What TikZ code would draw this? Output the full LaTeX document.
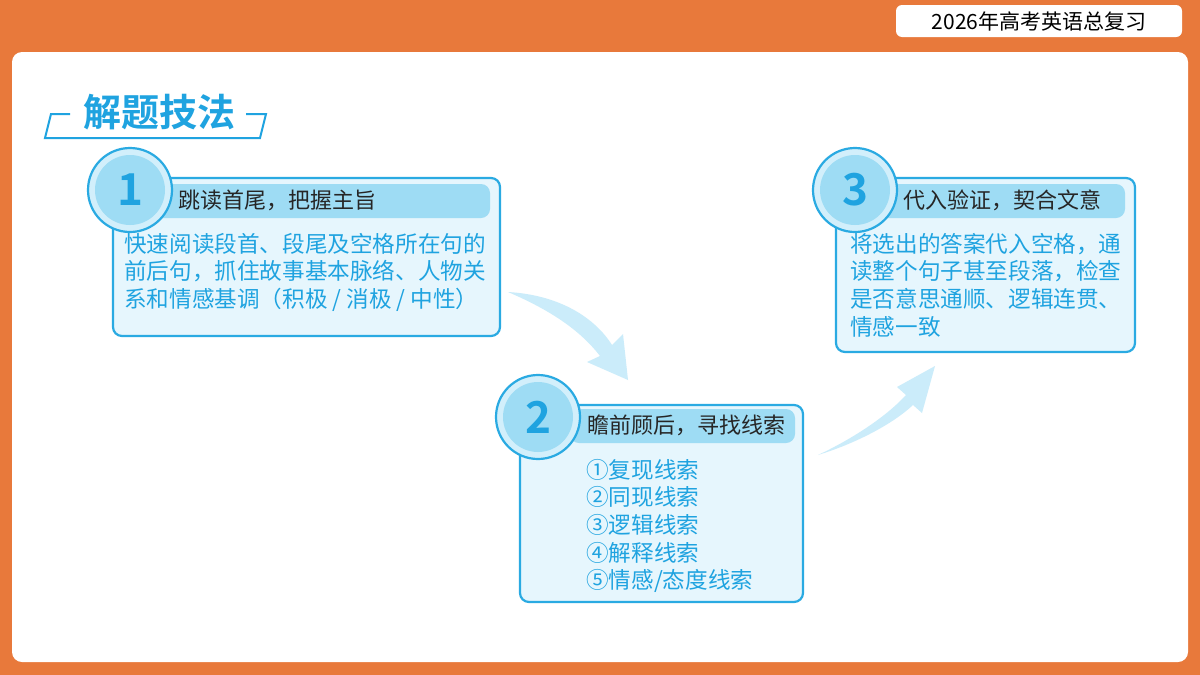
\documentclass[tikz,border=0pt]{standalone}
\usepackage{fontspec}
\setmainfont{Noto Sans CJK SC}
\newfontfamily\cjkb{Noto Sans CJK SC Bold}
\definecolor{org}{HTML}{E8793B}
\definecolor{bl}{HTML}{1FA3E0}
\definecolor{bord}{HTML}{2AAAE2}
\definecolor{boxf}{HTML}{E6F6FD}
\definecolor{band}{HTML}{9EDCF4}
\definecolor{ring}{HTML}{D2EFFB}
\definecolor{arr}{HTML}{CBECFA}
\tikzset{
 card/.style={draw=bord,line width=2.2pt,fill=boxf,rounded corners=9pt},
 bandst/.style={fill=band,rounded corners=9pt},
 numc/.style={circle,draw=bord,line width=2.2pt,fill=ring,minimum size=84pt,inner sep=0},
 numi/.style={circle,fill=band,minimum size=70pt,inner sep=0},
 numt/.style={text=bl,font=\cjkb\fontsize{44}{46}\selectfont},
 head/.style={anchor=west,inner sep=0,text=black!85,font=\fontsize{22}{25}\selectfont},
 body/.style={anchor=north west,inner sep=0,text=bl,align=left,font=\fontsize{22.6}{27.6}\selectfont},
}
\begin{document}
\begin{tikzpicture}[x=1pt,y=-1pt]
\fill[org] (0,0) rectangle (1200,675);
\useasboundingbox (0,0) rectangle (1200,675);
\fill[white,rounded corners=10pt] (12,52) rectangle (1188,662);
\node[fill=white,rounded corners=6pt,minimum width=286pt,minimum height=32pt,inner sep=0] (lab) at (1039,21) {};
\node[font=\fontsize{21}{24}\selectfont,text=black] at (lab) {2026年高考英语总复习};
% title
\draw[bl,line width=2pt] (70,114) -- (51,114) -- (45,138) -- (260,138) -- (266,114) -- (246,114);
\node[text=bl,font=\cjkb\fontsize{38}{40}\selectfont,inner sep=0] (title) at (159,112) {解题技法};
% arrows
\fill[arr] (508,292) .. controls (560,295) and (595,318) .. (612,345) -- (623,334) -- (628,380) -- (587,362) -- (600,356) .. controls (580,330) and (550,310) .. (508,292) -- cycle;
\fill[arr] (818,455) .. controls (860,442) and (895,422) .. (913,405) -- (922,413) -- (935,366) -- (897,387) -- (906,395) .. controls (885,418) and (850,440) .. (818,455) -- cycle;
% box 1
\draw[card] (113,178) rectangle (500,336);
\fill[bandst] (150,184) rectangle (490,218);
\node[numc] (c1) at (130,190) {};
\node[numi] at (c1) {};
\node[numt] at (c1) {1};
\node[head] (h1) at (178,200) {跳读首尾，把握主旨};
\node[body] (b1) at (124,233) {快速阅读段首、段尾及空格所在句的\\前后句，抓住故事基本脉络、人物关\\系和情感基调（积极 / 消极 / 中性）};
% box 3
\draw[card] (836,178) rectangle (1135,352);
\fill[bandst] (872,184) rectangle (1125,218);
\node[numc] (c3) at (855,190) {};
\node[numi] at (c3) {};
\node[numt] at (c3) {3};
\node[head] (h3) at (903,200) {代入验证，契合文意};
\node[body] (b3) at (850,233) {将选出的答案代入空格，通\\读整个句子甚至段落，检查\\是否意思通顺、逻辑连贯、\\情感一致};
% box 2
\draw[card] (520,405) rectangle (803,602);
\fill[bandst] (570,409) rectangle (795,443);
\node[numc] (c2) at (538,417) {};
\node[numi] at (c2) {};
\node[numt] at (c2) {2};
\node[head] (h2) at (587,425) {瞻前顾后，寻找线索};
\node[body] (b2) at (586,459) {①复现线索\\②同现线索\\③逻辑线索\\④解释线索\\⑤情感/态度线索};
\end{tikzpicture}
\end{document}
